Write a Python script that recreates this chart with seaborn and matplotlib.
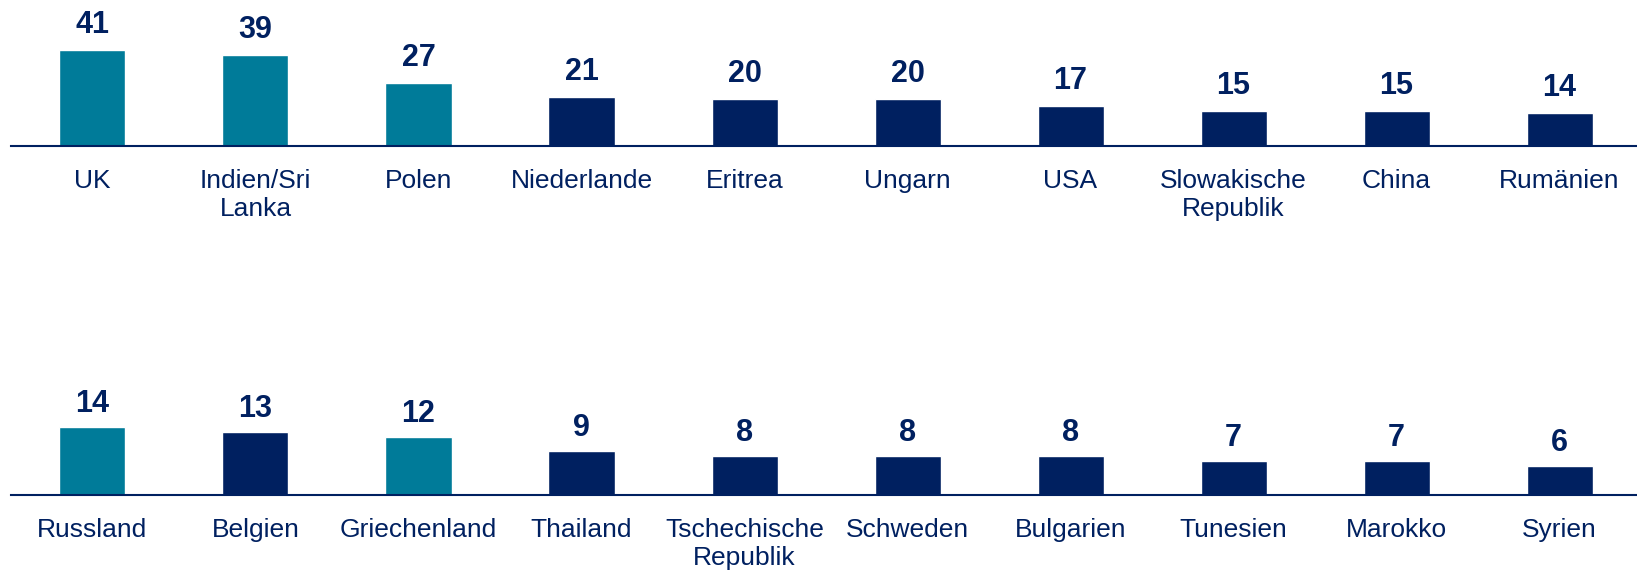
import pandas as pd
import seaborn as sns
import matplotlib.pyplot as plt

# 数据
top_countries = ["UK", "Indien/Sri\nLanka", "Polen", "Niederlande", "Eritrea",
                 "Ungarn", "USA", "Slowakische\nRepublik", "China", "Rumänien"]
top_values = [41, 39, 27, 21, 20, 20, 17, 15, 15, 14]
top_group = ["a", "a", "a", "b", "b", "b", "b", "b", "b", "b"]

bottom_countries = ["Russland", "Belgien", "Griechenland", "Thailand", "Tschechische\nRepublik",
                    "Schweden", "Bulgarien", "Tunesien", "Marokko", "Syrien"]
bottom_values = [14, 13, 12, 9, 8, 8, 8, 7, 7, 6]
bottom_group = ["a", "b", "a", "b", "b", "b", "b", "b", "b", "b"]

teal = "#007B99"
navy = "#002060"
palette = {"a": teal, "b": navy}

sns.set_theme(style="white")
plt.rcParams["font.family"] = ["Liberation Sans", "DejaVu Sans"]

fig = plt.figure(figsize=(16.37, 5.7), dpi=100)

# 两行：位置 [left, bottom, width, height]，y 轴上限，标签间距
rows = [
    (top_countries, top_values, top_group, [0.0067, 0.7444, 0.9933, 0.238], 58.2, 7),
    (bottom_countries, bottom_values, bottom_group, [0.0067, 0.1321, 0.9933, 0.2012], 23.65, 5.5),
]

for cats, vals, grp, pos, ymax, pad in rows:
    df = pd.DataFrame({"land": cats, "wert": vals, "gruppe": grp})
    ax = fig.add_axes(pos)
    sns.barplot(data=df, x="land", y="wert", hue="gruppe", palette=palette,
                width=0.405, dodge=False, legend=False, ax=ax, saturation=1)
    for c in ax.containers:
        ax.bar_label(c, fmt="%d", padding=pad, fontsize=22, fontweight="bold", color=navy)
    ax.set_xlim(-0.5, 9.475)
    ax.set_ylim(0, ymax)
    ax.set_xlabel("")
    ax.set_ylabel("")
    ax.set_yticks([])
    ax.tick_params(axis="x", length=0, pad=16.5, labelsize=19, labelcolor=navy)
    for lbl in ax.get_xticklabels():
        lbl.set_linespacing(1.25)
    for s in ["top", "left", "right"]:
        ax.spines[s].set_visible(False)
    ax.spines["bottom"].set_color(navy)
    ax.spines["bottom"].set_linewidth(1.5)
    ax.patch.set_alpha(0)

fig.savefig("out.png", dpi=100)
